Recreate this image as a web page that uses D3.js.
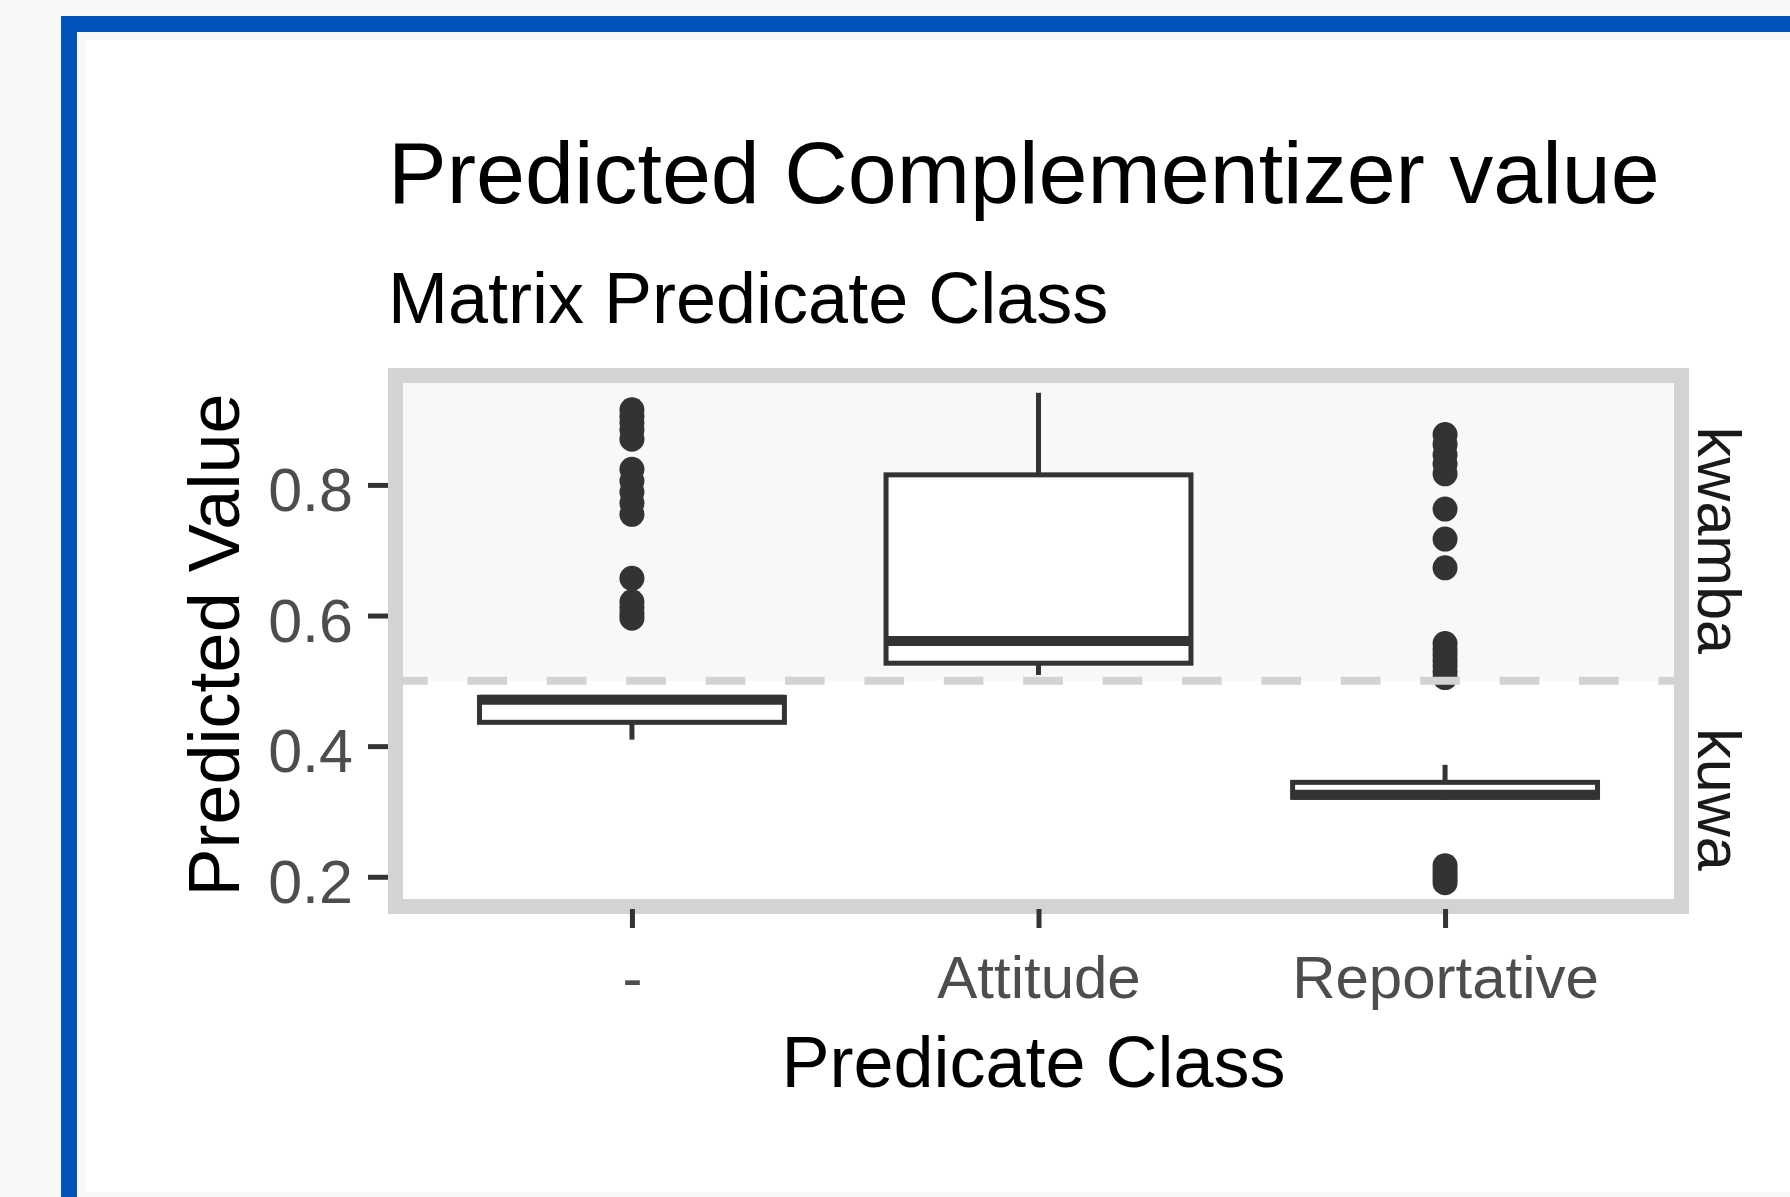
<!DOCTYPE html>
<html lang="en">
<head>
    <meta charset="UTF-8">
    <title>Predicted Complementizer value</title>
    <script src="https://d3js.org/d3.v7.min.js"></script>
    <style>
        body {
            margin: 0;
            background: #f9f8f6;
        }
        svg {
            display: block;
            font-family: "Liberation Sans", Arial, sans-serif;
        }
        .tick text {
            fill: #4d4d4d;
        }
    </style>
</head>
<body>
<script>
    // data
    const categories = ["-", "Attitude", "Reportative"];
    const whiskerLow = [0.410, 0.509, 0.318];
    const q1 = [0.4365, 0.527, 0.3216];
    const median = [0.471, 0.561, 0.3255];
    const q3 = [0.4747, 0.8154, 0.3446];
    const whiskerHigh = [0.476, 0.941, 0.3714];
    const outliersDash = [0.915, 0.905, 0.895, 0.884, 0.870, 0.824, 0.806, 0.789, 0.772, 0.755,
        0.657, 0.621, 0.612, 0.603, 0.596];
    const outliersAttitude = [];
    const outliersReportative = [0.877, 0.862, 0.846, 0.832, 0.817, 0.763, 0.717, 0.673,
        0.557, 0.548, 0.540, 0.531, 0.523, 0.514, 0.505,
        0.217, 0.210, 0.203, 0.197, 0.191];
    const yTicks = [0.2, 0.4, 0.6, 0.8];
    const yDomain = [0.143, 0.979];
    const facetLabels = ["kwamba", "kuwa"];
    const threshold = 0.5;

    const outliers = [outliersDash, outliersAttitude, outliersReportative];

    const width = 1790, height = 1197;
    // panel box
    const px0 = 388, px1 = 1689, py0 = 368, py1 = 914;
    const ink = "#333333";

    const svg = d3.select("body").append("svg")
        .attr("width", width)
        .attr("height", height);

    // screenshot frame: off-white page, blue edge, white card
    svg.append("rect").attr("width", width).attr("height", height).attr("fill", "#f9f8f6");
    svg.append("rect").attr("x", 61).attr("y", 16).attr("width", width - 61).attr("height", 16).attr("fill", "#0153ba");
    svg.append("rect").attr("x", 61).attr("y", 16).attr("width", 16).attr("height", height - 16).attr("fill", "#0153ba");
    svg.append("rect").attr("x", 85).attr("y", 40).attr("width", width - 85).attr("height", 1192 - 40).attr("fill", "#ffffff");

    const x = d3.scalePoint()
        .domain(categories)
        .range([px0, px1])
        .padding(0.6);

    const y = d3.scaleLinear()
        .domain(yDomain)
        .range([py1, py0]);

    const boxW = x.step() * 0.75;

    // shaded area above the threshold (kwamba)
    svg.append("rect")
        .attr("x", px0)
        .attr("y", py0)
        .attr("width", px1 - px0)
        .attr("height", y(threshold) - py0)
        .attr("fill", "#f8f8f8");

    const stats = categories.map((c, i) => ({
        cat: c, lo: whiskerLow[i], q1: q1[i], med: median[i], q3: q3[i], hi: whiskerHigh[i], out: outliers[i]
    }));

    const g = svg.append("g");

    stats.forEach(d => {
        const cx = x(d.cat);
        const box = g.append("g");

        box.selectAll("circle")
            .data(d.out)
            .enter().append("circle")
            .attr("cx", cx)
            .attr("cy", v => y(v))
            .attr("r", 12.5)
            .attr("fill", ink);

        // whiskers
        box.append("line")
            .attr("x1", cx).attr("x2", cx)
            .attr("y1", y(d.q3)).attr("y2", y(d.hi))
            .attr("stroke", ink).attr("stroke-width", 5);
        box.append("line")
            .attr("x1", cx).attr("x2", cx)
            .attr("y1", y(d.q1)).attr("y2", y(d.lo))
            .attr("stroke", ink).attr("stroke-width", 5);

        box.append("rect")
            .attr("x", cx - boxW / 2)
            .attr("y", y(d.q3))
            .attr("width", boxW)
            .attr("height", y(d.q1) - y(d.q3))
            .attr("fill", "#ffffff")
            .attr("stroke", ink)
            .attr("stroke-width", 5);

        box.append("line")
            .attr("x1", cx - boxW / 2).attr("x2", cx + boxW / 2)
            .attr("y1", y(d.med)).attr("y2", y(d.med))
            .attr("stroke", ink).attr("stroke-width", 10);
    });

    // dashed threshold line
    svg.append("line")
        .attr("x1", px0).attr("x2", px1)
        .attr("y1", y(threshold)).attr("y2", y(threshold))
        .attr("stroke", "#d3d3d3")
        .attr("stroke-width", 8)
        .attr("stroke-dasharray", "39.7,39.7");

    // panel border (inner half visible)
    svg.append("rect")
        .attr("x", px0 + 7.5)
        .attr("y", py0 + 7.5)
        .attr("width", px1 - px0 - 15)
        .attr("height", py1 - py0 - 15)
        .attr("fill", "none")
        .attr("stroke", "#d3d3d3")
        .attr("stroke-width", 15);

    // axes
    const yAxis = svg.append("g")
        .attr("transform", `translate(${px0},0)`)
        .call(d3.axisLeft(y).tickValues(yTicks).tickSize(20).tickPadding(15).tickFormat(d3.format(".1f")));
    yAxis.select(".domain").remove();
    yAxis.selectAll(".tick line").attr("stroke", ink).attr("stroke-width", 5);
    yAxis.selectAll(".tick text").attr("font-size", 61).attr("dy", "0.42em").attr("font-family", null);

    const xAxis = svg.append("g")
        .attr("transform", `translate(0,${py1 - 5})`)
        .call(d3.axisBottom(x).tickSize(19).tickPadding(27));
    xAxis.select(".domain").remove();
    xAxis.selectAll(".tick line").attr("stroke", ink).attr("stroke-width", 5);
    xAxis.selectAll(".tick text").attr("font-size", 60).attr("font-family", null);

    // facet labels on the right
    const splitY = y(threshold);
    const facetCenters = [(py0 + splitY) / 2 + 16, (splitY + py1) / 2 + 2];
    facetLabels.forEach((lab, i) => {
        svg.append("text")
            .attr("transform", `translate(1698,${facetCenters[i]}) rotate(90)`)
            .attr("text-anchor", "middle")
            .attr("font-size", 61)
            .attr("fill", "#1a1a1a")
            .text(lab);
    });

    // titles
    svg.append("text")
        .attr("x", px0)
        .attr("y", 203)
        .attr("font-size", 88)
        .attr("fill", "#000")
        .text("Predicted Complementizer value");

    svg.append("text")
        .attr("x", px0)
        .attr("y", 323)
        .attr("font-size", 72)
        .attr("fill", "#000")
        .text("Matrix Predicate Class");

    svg.append("text")
        .attr("x", (px0 + px1) / 2 - 5)
        .attr("y", 1087)
        .attr("text-anchor", "middle")
        .attr("font-size", 72)
        .attr("fill", "#000")
        .text("Predicate Class");

    svg.append("text")
        .attr("transform", `translate(239,${(py0 + py1) / 2 + 4}) rotate(-90)`)
        .attr("text-anchor", "middle")
        .attr("font-size", 72)
        .attr("fill", "#000")
        .text("Predicted Value");
</script>
</body>
</html>
